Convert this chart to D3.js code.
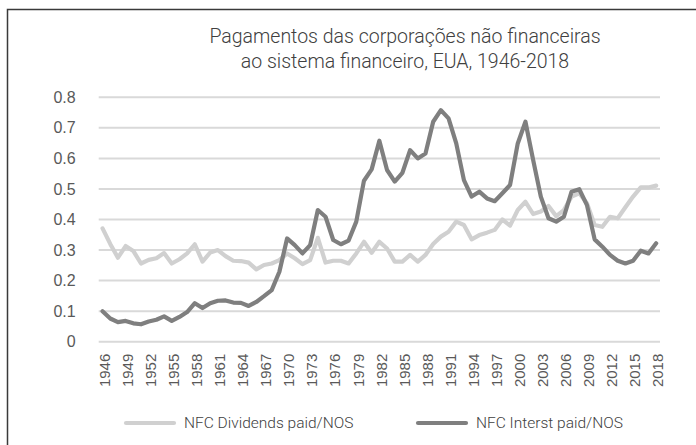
<!DOCTYPE html>
<html>
<head>
<meta charset="utf-8">
<title>Pagamentos NFC</title>
<style>
html, body { margin: 0; padding: 0; background: #fff; }
svg { display: block; }
</style>
</head>
<body>
<svg width="696" height="445"></svg>
<script src="https://cdnjs.cloudflare.com/ajax/libs/d3/7.8.5/d3.min.js"></script>
<script>
let years = [1946, 1947, 1948, 1949, 1950, 1951, 1952, 1953, 1954, 1955,
    1956, 1957, 1958, 1959, 1960, 1961, 1962, 1963, 1964, 1965,
    1966, 1967, 1968, 1969, 1970, 1971, 1972, 1973, 1974, 1975,
    1976, 1977, 1978, 1979, 1980, 1981, 1982, 1983, 1984, 1985,
    1986, 1987, 1988, 1989, 1990, 1991, 1992, 1993, 1994, 1995,
    1996, 1997, 1998, 1999, 2000, 2001, 2002, 2003, 2004, 2005,
    2006, 2007, 2008, 2009, 2010, 2011, 2012, 2013, 2014, 2015,
    2016, 2017, 2018];

// NFC Dividends paid/NOS
let dividends = [0.371, 0.320, 0.275, 0.313, 0.297, 0.256, 0.268, 0.273, 0.290, 0.256,
    0.270, 0.289, 0.319, 0.262, 0.292, 0.300, 0.280, 0.265, 0.264, 0.259,
    0.237, 0.251, 0.256, 0.267, 0.289, 0.273, 0.254, 0.267, 0.340, 0.259,
    0.265, 0.265, 0.256, 0.289, 0.327, 0.291, 0.327, 0.305, 0.262, 0.262,
    0.284, 0.262, 0.284, 0.320, 0.344, 0.360, 0.393, 0.382, 0.335, 0.349,
    0.357, 0.366, 0.400, 0.380, 0.431, 0.458, 0.418, 0.426, 0.444, 0.411,
    0.431, 0.475, 0.486, 0.453, 0.382, 0.376, 0.409, 0.404, 0.440, 0.475,
    0.505, 0.505, 0.511];

// NFC Interst paid/NOS
let interest = [0.100, 0.076, 0.064, 0.068, 0.060, 0.057, 0.066, 0.072, 0.083, 0.068,
    0.081, 0.097, 0.126, 0.110, 0.126, 0.134, 0.135, 0.128, 0.127, 0.117,
    0.130, 0.149, 0.169, 0.229, 0.338, 0.316, 0.289, 0.316, 0.431, 0.409,
    0.333, 0.319, 0.331, 0.393, 0.527, 0.564, 0.658, 0.562, 0.524, 0.553,
    0.627, 0.600, 0.616, 0.720, 0.758, 0.731, 0.649, 0.529, 0.475, 0.491,
    0.469, 0.460, 0.486, 0.513, 0.649, 0.720, 0.595, 0.475, 0.404, 0.393,
    0.409, 0.491, 0.499, 0.447, 0.335, 0.311, 0.284, 0.265, 0.256, 0.265,
    0.298, 0.289, 0.322];

let xTickLabels = [1946, 1949, 1952, 1955, 1958, 1961, 1964, 1967, 1970, 1973,
    1976, 1979, 1982, 1985, 1988, 1991, 1994, 1997, 2000, 2003,
    2006, 2009, 2012, 2015, 2018];
let yTicks = [0, 0.1, 0.2, 0.3, 0.4, 0.5, 0.6, 0.7, 0.8];

let titleLines = ["Pagamentos das corporações não financeiras",
    "ao sistema financeiro, EUA, 1946-2018"];
let seriesNames = ["NFC Dividends paid/NOS", "NFC Interst paid/NOS"];
let seriesColors = ["#d0d0d0", "#7f7f7f"];

let plot = {left: 98.7, right: 660, top: 97.3, bottom: 341.7};
let font = "'Liberation Sans', Arial, sans-serif";
let lightFont = "Roboto, " + font;

let svg = d3.select("svg");

// frame, only left and top edges fall inside the picture
svg.append("rect")
    .attr("x", 7.5).attr("y", 9.5)
    .attr("width", 800).attr("height", 800)
    .attr("fill", "none")
    .attr("stroke", "#3a3a3a")
    .attr("stroke-width", 1.5);

let xScale = d3.scalePoint()
    .domain(years)
    .range([plot.left, plot.right])
    .padding(0.5);
let yScale = d3.scaleLinear()
    .domain([0, 0.8])
    .range([plot.bottom, plot.top]);

// title
svg.append("g").selectAll("text")
    .data(titleLines)
    .join("text")
    .attr("x", 405)
    .attr("y", (d, i) => 43 + i * 25)
    .attr("text-anchor", "middle")
    .attr("font-family", lightFont)
    .attr("font-weight", 300)
    .attr("font-size", 19.5)
    .attr("fill", "#404040")
    .text(d => d);

// gridlines
svg.append("g").selectAll("line")
    .data(yTicks)
    .join("line")
    .attr("x1", plot.left).attr("x2", plot.right)
    .attr("y1", d => yScale(d)).attr("y2", d => yScale(d))
    .attr("stroke", "#d9d9d9")
    .attr("stroke-width", 2);

// y axis
let yAxis = d3.axisLeft(yScale)
    .tickValues(yTicks)
    .tickSize(0)
    .tickPadding(23)
    .tickFormat(d => d === 0 ? "0" : d3.format(".1f")(d));
let yg = svg.append("g")
    .attr("transform", "translate(" + plot.left + ",0)")
    .call(yAxis);
yg.select(".domain").remove();
yg.selectAll("text")
    .attr("font-family", font)
    .attr("font-size", 16)
    .attr("fill", "#595959");

// x axis
let xAxis = d3.axisBottom(xScale)
    .tickValues(xTickLabels)
    .tickSize(0);
let xg = svg.append("g")
    .attr("transform", "translate(0," + plot.bottom + ")")
    .call(xAxis);
xg.select(".domain").remove();
xg.selectAll("text")
    .attr("font-family", font)
    .attr("font-size", 15)
    .attr("fill", "#595959")
    .attr("transform", "rotate(-90)")
    .attr("text-anchor", "end")
    .attr("x", -12)
    .attr("y", 1.5)
    .attr("dy", "0.35em");

// lines
let series = [dividends, interest];
let line = d3.line()
    .x((d, i) => xScale(years[i]))
    .y(d => yScale(d));

svg.append("g").selectAll("path")
    .data(series)
    .join("path")
    .attr("d", d => line(d))
    .attr("fill", "none")
    .attr("stroke", (d, i) => seriesColors[i])
    .attr("stroke-width", 4.2)
    .attr("stroke-linejoin", "round")
    .attr("stroke-linecap", "round");

// legend
let legendX = [126, 418];
let legend = svg.append("g").selectAll("g")
    .data(seriesNames)
    .join("g")
    .attr("transform", (d, i) => "translate(" + legendX[i] + ",423)");
legend.append("line")
    .attr("x1", 0).attr("x2", 48)
    .attr("stroke", (d, i) => seriesColors[i])
    .attr("stroke-width", 4.2)
    .attr("stroke-linecap", "round");
legend.append("text")
    .attr("x", 58)
    .attr("dy", "0.35em")
    .attr("font-family", lightFont)
    .attr("font-weight", 300)
    .attr("font-size", 15.5)
    .attr("fill", "#404040")
    .text(d => d);
</script>
</body>
</html>
